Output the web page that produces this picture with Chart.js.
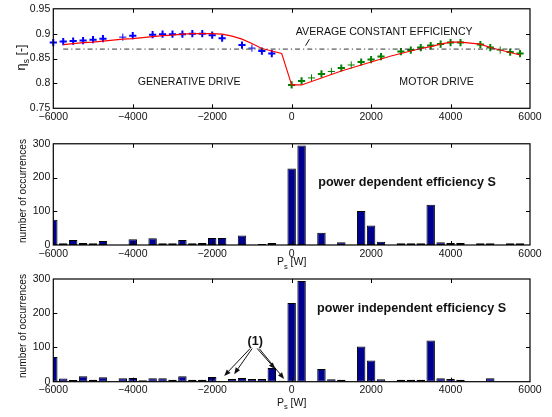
<!DOCTYPE html>
<html>
<head>
<meta charset="utf-8">
<script src="https://cdn.jsdelivr.net/npm/chart.js@4"></script>
<style>
  html, body { margin: 0; padding: 0; background: #fff; }
  #wrap { position: relative; width: 552px; height: 417px; overflow: hidden; }
  canvas { position: absolute; left: 0; }
</style>
</head>
<body>
<div id="wrap">
  <canvas id="effChart" width="552" height="135" style="top:0px"></canvas>
  <canvas id="depChart" width="552" height="135" style="top:135px"></canvas>
  <canvas id="indChart" width="552" height="147" style="top:270px"></canvas>
</div>
<script>
// ---- data -------------------------------------------------------------
// histogram bin centres of the source power P_s [W]
const binCenters = [-6000, -5750, -5500, -5250, -5000, -4750, -4500, -4250,
  -4000, -3750, -3500, -3250, -3000, -2750, -2500, -2250, -2000, -1750, -1500,
  -1250, -1000, -750, -500, -250, 0, 250, 500, 750, 1000, 1250, 1500, 1750,
  2000, 2250, 2500, 2750, 3000, 3250, 3500, 3750, 4000, 4250, 4500, 4750,
  5000, 5250, 5500, 5750];

// occurrences with power dependent efficiency
const depCounts = [75, 5, 15, 6, 5, 12, 0, 1, 17, 0, 20, 5, 5, 15, 5, 6, 21,
  21, 0, 28, 1, 3, 6, 0, 227, 295, 1, 36, 1, 8, 1, 101, 58, 10, 0, 5, 5, 5,
  119, 8, 6, 6, 0, 5, 5, 1, 5, 5];

// occurrences with power independent efficiency
const indCounts = [72, 9, 5, 16, 6, 13, 0, 10, 11, 4, 10, 10, 6, 16, 6, 6, 14,
  2, 8, 11, 8, 8, 40, 3, 230, 294, 0, 37, 7, 6, 0, 103, 62, 7, 0, 6, 6, 6,
  120, 10, 8, 6, 0, 0, 10, 0, 0, 0];

// efficiency characteristic of the source (red curve)
const curvePower = [-5750, -5500, -5250, -5000, -4750, -4500, -4250, -4000,
  -3750, -3500, -3250, -3000, -2750, -2500, -2250, -2000, -1750, -1500, -1250,
  -1000, -750, -500, -250, 0, 250, 500, 750, 1000, 1250, 1500, 1750, 2000,
  2250, 2500, 2750, 3000, 3250, 3500, 3750, 4000, 4250, 4500, 4750, 5000,
  5250, 5500, 5750];
const curveEff = [0.878, 0.880, 0.882, 0.883, 0.885, 0.887, 0.889, 0.890,
  0.892, 0.894, 0.896, 0.897, 0.899, 0.900, 0.900, 0.900, 0.899, 0.895, 0.889,
  0.880, 0.870, 0.865, 0.860, 0.797, 0.797, 0.804, 0.811, 0.818, 0.825, 0.831,
  0.837, 0.843, 0.849, 0.855, 0.860, 0.865, 0.870, 0.874, 0.879, 0.883, 0.883,
  0.881, 0.879, 0.872, 0.867, 0.862, 0.857];

// measured efficiency, generative drive (blue)
const genPower = [-6000, -5750, -5500, -5250, -5000, -4750, -4250, -4000,
  -3500, -3250, -3000, -2750, -2500, -2250, -2000, -1750, -1250, -1000, -750,
  -500];
const genEff = [0.882, 0.884, 0.885, 0.886, 0.888, 0.890, 0.893, 0.896, 0.898,
  0.899, 0.899, 0.899, 0.900, 0.900, 0.897, 0.891, 0.877, 0.871, 0.865, 0.860];

// measured efficiency, motor drive (green)
const motPower = [0, 250, 500, 750, 1000, 1250, 1500, 1750, 2000, 2250, 2750,
  3000, 3250, 3500, 3750, 4000, 4250, 4750, 5000, 5250, 5500, 5750];
const motEff = [0.797, 0.805, 0.811, 0.819, 0.824, 0.831, 0.837, 0.843, 0.848,
  0.854, 0.864, 0.867, 0.872, 0.876, 0.879, 0.882, 0.882, 0.878, 0.872, 0.867,
  0.863, 0.860];

// average constant efficiency
const avgEff = 0.869;
const avgSpan = [-5750, 5750];

// tick labels
const powerTicks = [-6000, -4000, -2000, 0, 2000, 4000, 6000];
const effTicks = [0.75, 0.8, 0.85, 0.9, 0.95];
const countTicks = [0, 100, 200, 300];

// ---- helpers ----------------------------------------------------------
const FONT = "'Liberation Sans', Arial, Helvetica, sans-serif";
const TICK_FONT = { family: FONT, size: 10.5, lineHeight: 1.1 };
const INK = '#111';

const pairs = (xs, ys) => xs.map((x, i) => ({ x: x, y: ys[i] }));
const powerLabel = v => (v < 0 ? '\u2212' + Math.abs(v) : String(v));
// a point drawn with a thin cross when its power bin was (almost) never hit
const markerWidths = xs => xs.map(p => (depCounts[binCenters.indexOf(p)] <= 1 ? 1 : 2));

function drawRich(ctx, parts, cx, cy, size, rotate, weight) {
  ctx.save();
  ctx.translate(cx, cy);
  if (rotate) ctx.rotate(-Math.PI / 2);
  ctx.textBaseline = 'middle';
  ctx.textAlign = 'left';
  ctx.fillStyle = INK;
  let total = 0;
  const items = parts.map(p => {
    const fs = p.sub ? size * 0.72 : size;
    ctx.font = `${weight || ''} ${fs}px ${FONT}`;
    const w = ctx.measureText(p.t).width;
    total += w;
    return { p, fs, w };
  });
  let x = -total / 2;
  items.forEach(({ p, fs, w }) => {
    ctx.font = `${weight || ''} ${fs}px ${FONT}`;
    ctx.fillText(p.t, x, p.sub ? size * 0.38 : 0);
    x += w;
  });
  ctx.restore();
}

// ---- annotations per panel -------------------------------------------
const notes = {
  effChart: {
    texts: [
      { text: 'AVERAGE CONSTANT EFFICIENCY', x: 2330, y: 0.903, font: `10.6px ${FONT}` },
      { text: 'GENERATIVE DRIVE', x: -2580, y: 0.8035, font: `10.6px ${FONT}` },
      { text: 'MOTOR DRIVE', x: 3650, y: 0.8035, font: `10.6px ${FONT}` }
    ],
    lines: [{ x1: 350, y1: 0.8758, x2: 448, y2: 0.8889 }],
    arrows: [],
    yTitle: { parts: [{ t: '\u03b7' }, { t: 's', sub: true }, { t: ' [-]' }], x: 21.5, y: 57.5, size: 12.5 },
    xTitle: null
  },
  depChart: {
    texts: [
      { text: 'power dependent efficiency S', x: 2906, y: 186, font: `bold 12.6px ${FONT}` }
    ],
    lines: [],
    arrows: [],
    yTitle: { parts: [{ t: 'number of occurrences' }], x: 23, y: 56, size: 10.2 },
    xTitle: { parts: [{ t: 'P' }, { t: 's', sub: true }, { t: ' [W]' }], y: 127.5, size: 10.5 }
  },
  indChart: {
    texts: [
      { text: 'power independent efficiency S', x: 3019, y: 214, font: `bold 12.6px ${FONT}` },
      { text: '(1)', x: -918, y: 116, font: `bold 12.6px ${FONT}` }
    ],
    lines: [],
    arrows: [
      { x1: -1044, y1: 97, x2: -1698, y2: 17 },
      { x1: -994, y1: 97, x2: -1447, y2: 22 },
      { x1: -868, y1: 97, x2: -415, y2: 37 },
      { x1: -818, y1: 97, x2: -189, y2: 8 }
    ],
    yTitle: { parts: [{ t: 'number of occurrences' }], x: 23, y: 56, size: 10.2 },
    xTitle: { parts: [{ t: 'P' }, { t: 's', sub: true }, { t: ' [W]' }], y: 133, size: 10.5 }
  }
};

// box around the axes with inward ticks on all four sides
const framePlugin = {
  id: 'frame',
  afterDatasetsDraw(chart) {
    const { ctx, chartArea: a, scales } = chart;
    ctx.save();
    ctx.strokeStyle = '#000';
    ctx.lineWidth = 1;
    ctx.beginPath();
    const tl = 4;
    scales.x.ticks.forEach(t => {
      const px = Math.round(scales.x.getPixelForValue(t.value)) + 0.5;
      if (px <= a.left + 1 || px >= a.right - 1) return;
      ctx.moveTo(px, a.bottom); ctx.lineTo(px, a.bottom - tl);
      ctx.moveTo(px, a.top); ctx.lineTo(px, a.top + tl);
    });
    scales.y.ticks.forEach(t => {
      const py = Math.round(scales.y.getPixelForValue(t.value)) + 0.5;
      if (py <= a.top + 1 || py >= a.bottom - 1) return;
      ctx.moveTo(a.left, py); ctx.lineTo(a.left + tl, py);
      ctx.moveTo(a.right, py); ctx.lineTo(a.right - tl, py);
    });
    ctx.stroke();
    ctx.lineWidth = 1.2;
    ctx.strokeRect(a.left, a.top, a.right - a.left, a.bottom - a.top);
    ctx.restore();
  }
};

// texts, leader lines, arrows and axis titles
const notesPlugin = {
  id: 'notes',
  afterDraw(chart) {
    const n = notes[chart.canvas.id];
    if (!n) return;
    const { ctx, chartArea: a, scales } = chart;
    const P = (x, y) => [scales.x.getPixelForValue(x), scales.y.getPixelForValue(y)];
    ctx.save();
    ctx.fillStyle = INK;
    ctx.textAlign = 'center';
    ctx.textBaseline = 'middle';
    n.texts.forEach(t => {
      const [x, y] = P(t.x, t.y);
      ctx.font = t.font;
      ctx.fillText(t.text, x, y);
    });
    ctx.strokeStyle = INK;
    ctx.lineWidth = 1;
    n.lines.forEach(l => {
      const [x1, y1] = P(l.x1, l.y1);
      const [x2, y2] = P(l.x2, l.y2);
      ctx.beginPath(); ctx.moveTo(x1, y1); ctx.lineTo(x2, y2); ctx.stroke();
    });
    n.arrows.forEach(ar => {
      const [x1, y1] = P(ar.x1, ar.y1);
      const [x2, y2] = P(ar.x2, ar.y2);
      const ang = Math.atan2(y2 - y1, x2 - x1);
      const hl = 6.5, hw = 2.6;
      const bx = x2 - hl * Math.cos(ang), by = y2 - hl * Math.sin(ang);
      ctx.beginPath(); ctx.moveTo(x1, y1); ctx.lineTo(bx, by); ctx.stroke();
      ctx.beginPath();
      ctx.moveTo(x2, y2);
      ctx.lineTo(bx + hw * Math.sin(ang), by - hw * Math.cos(ang));
      ctx.lineTo(bx - hw * Math.sin(ang), by + hw * Math.cos(ang));
      ctx.closePath();
      ctx.fill();
    });
    ctx.restore();
    if (n.yTitle) drawRich(ctx, n.yTitle.parts, n.yTitle.x, n.yTitle.y, n.yTitle.size, true);
    if (n.xTitle) drawRich(ctx, n.xTitle.parts, (a.left + a.right) / 2, n.xTitle.y, n.xTitle.size, false);
  }
};

function axes(yMin, yMax, yTicks, yFmt, xAxisHeight) {
  return {
    x: {
      type: 'linear', min: -6000, max: 6000, offset: false,
      afterBuildTicks: s => { s.ticks = powerTicks.map(v => ({ value: v })); },
      afterFit: s => { s.height = xAxisHeight; },
      grid: { display: false, drawTicks: false },
      border: { display: false },
      ticks: { font: TICK_FONT, color: INK, padding: 3, maxRotation: 0, autoSkip: false, callback: powerLabel }
    },
    y: {
      type: 'linear', min: yMin, max: yMax,
      afterBuildTicks: s => { s.ticks = yTicks.map(v => ({ value: v })); },
      afterFit: s => { s.width = 53.3; },
      grid: { display: false, drawTicks: false },
      border: { display: false },
      ticks: { font: TICK_FONT, color: INK, padding: 3, autoSkip: false, callback: yFmt }
    }
  };
}

const common = {
  responsive: false,
  devicePixelRatio: 1,
  animation: false,
  events: [],
  plugins: { legend: { display: false }, tooltip: { enabled: false } }
};

// ---- efficiency panel -------------------------------------------------
new Chart(document.getElementById('effChart'), {
  type: 'scatter',
  data: {
    datasets: [
      {
        data: pairs(avgSpan, avgSpan.map(() => avgEff)),
        showLine: true, borderColor: '#333', borderWidth: 1,
        borderDash: [5, 3, 1.2, 3], pointRadius: 0
      },
      {
        data: pairs(curvePower, curveEff),
        showLine: true, borderColor: '#ff0000', borderWidth: 1.1,
        pointRadius: 0, tension: 0
      },
      {
        data: pairs(genPower, genEff),
        pointStyle: 'cross', pointRadius: 3.6,
        pointBorderColor: '#0000ff', pointBorderWidth: markerWidths(genPower),
        clip: false
      },
      {
        data: pairs(motPower, motEff),
        pointStyle: 'cross', pointRadius: 3.6,
        pointBorderColor: '#007f00', pointBorderWidth: markerWidths(motPower),
        clip: false
      }
    ]
  },
  options: Object.assign({}, common, {
    layout: { padding: { top: 6, left: 0, right: 22, bottom: 0 } },
    scales: axes(0.75, 0.95, effTicks, v => String(Number(v.toFixed(2))), 26.7)
  }),
  plugins: [framePlugin, notesPlugin]
});

// ---- histogram panels -------------------------------------------------
function histogram(id, counts, padTop, xAxisHeight) {
  return new Chart(document.getElementById(id), {
    type: 'bar',
    data: {
      datasets: [{
        data: pairs(binCenters, counts),
        backgroundColor: '#00008f',
        borderColor: '#000',
        borderWidth: 1,
        borderSkipped: false,
        barPercentage: 0.85,
        categoryPercentage: 1,
        clip: 0
      }]
    },
    options: Object.assign({}, common, {
      layout: { padding: { top: padTop, left: 0, right: 22, bottom: 0 } },
      scales: axes(0, 300, countTicks, v => String(v), xAxisHeight)
    }),
    plugins: [framePlugin, notesPlugin]
  });
}

histogram('depChart', depCounts, 8.3, 25);
histogram('indChart', indCounts, 9, 35.3);
</script>
</body>
</html>
